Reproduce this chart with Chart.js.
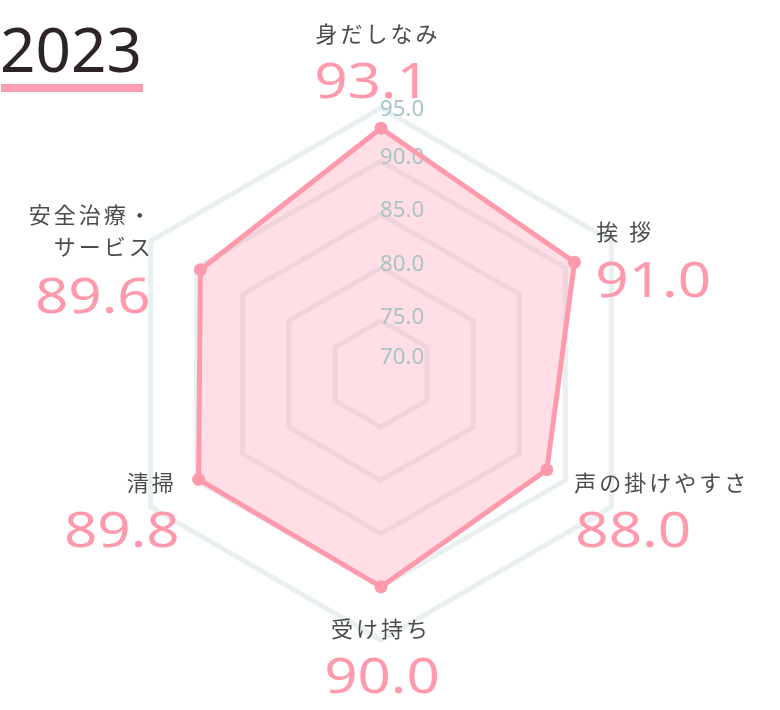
<!DOCTYPE html>
<html lang="ja">
<head>
<meta charset="utf-8">
<title>2023</title>
<script src="https://cdn.jsdelivr.net/npm/chart.js@4.4.1/dist/chart.umd.min.js"></script>
<style>
  html, body { margin: 0; padding: 0; background: #fff; overflow: hidden; }
  #wrap { position: relative; width: 780px; height: 710px; }
  canvas { position: absolute; left: 0; top: 0; }
  #year { position: absolute; left: 0; top: 17px; margin: 0; font: 400 62px/62px "Noto Sans", sans-serif; color: #2d2427; }
  #year-line { position: absolute; left: 1px; top: 84px; width: 142px; height: 8px; background: #ff9eb1; }
</style>
</head>
<body>
<div id="wrap">
  <canvas id="radarChart" width="780" height="710"></canvas>
  <h1 id="year">2023</h1>
  <div id="year-line"></div>
</div>
<script>
// chart data
const categories = ['身だしなみ', '挨 拶', '声の掛けやすさ', '受け持ち', '清掃', ['安全治療・', 'サービス']];
const scores = [93.1, 91.0, 88.0, 90.0, 89.8, 89.6];
const scaleMin = 70;
const scaleMax = 95;
const scaleStep = 5;

// where each name / score sits, relative to the outer vertex of its axis
const labelLayout = [
    { align: 'center', nameDx: -3,  nameDy: -74, valueDx: -9,  valueDy: -10 },
    { align: 'left',   nameDx: -15, nameDy: -9,  valueDx: -16, valueDy: 56 },
    { align: 'left',   nameDx: -37, nameDy: -24, valueDx: -36, valueDy: 40 },
    { align: 'center', nameDx: 0,   nameDy: -11, valueDx: 1,   valueDy: 53 },
    { align: 'right',  nameDx: 26,  nameDy: -24, valueDx: 29,  valueDy: 40 },
    { align: 'right',  nameDx: 3,   nameDy: -26, valueDx: 0,   valueDy: 72 }
];

const pink = '#ff9aad';

// the digits in the original are wide, so stretch them a bit
function drawScaledText(ctx, text, x, y, align, sx) {
    ctx.save();
    ctx.translate(x, y);
    ctx.scale(sx, 1);
    ctx.textAlign = align;
    ctx.fillText(text, 0, 0);
    ctx.restore();
}

// tick values, drawn after the fill but under the line
const tickLabelPlugin = {
    id: 'tickLabels',
    beforeDatasetDraw(chart) {
        const scale = chart.scales.r;
        const ctx = chart.ctx;
        ctx.save();
        ctx.fillStyle = '#a9c4c6';
        ctx.font = '21px "Noto Sans"';
        ctx.textBaseline = 'middle';
        scale.ticks.forEach(tick => {
            let dist = scale.getDistanceFromCenterForValue(tick.value) + 3;
            dist = Math.min(Math.max(dist, 16), scale.drawingArea - 2);
            drawScaledText(ctx, tick.value.toFixed(1), scale.xCenter - 1, scale.yCenter - dist, 'left', 1.06);
        });
        ctx.restore();
    }
};

// category names with the score under them
const pointLabelPlugin = {
    id: 'pointNames',
    afterDraw(chart) {
        const scale = chart.scales.r;
        const ctx = chart.ctx;
        ctx.save();
        categories.forEach((name, i) => {
            const pos = scale.getPointPosition(i, scale.drawingArea);
            const lay = labelLayout[i];
            const lines = [].concat(name);

            ctx.font = '22px "Noto Sans CJK JP"';
            ctx.letterSpacing = '3px';
            ctx.fillStyle = '#4b4b4b';
            ctx.textAlign = lay.align;
            ctx.textBaseline = 'middle';
            lines.forEach((line, j) => {
                ctx.fillText(line, pos.x + lay.nameDx, pos.y + lay.nameDy + j * 32);
            });

            ctx.letterSpacing = '0px';
            ctx.font = '49px "Noto Sans"';
            ctx.fillStyle = pink;
            ctx.textBaseline = 'alphabetic';
            drawScaledText(ctx, scores[i].toFixed(1), pos.x + lay.valueDx, pos.y + lay.valueDy, lay.align, 1.19);
        });
        ctx.restore();
    }
};

new Chart(document.getElementById('radarChart'), {
    type: 'radar',
    data: {
        labels: categories,
        datasets: [{
            label: '2023',
            data: scores,
            fill: true,
            backgroundColor: 'rgba(255, 153, 172, 0.31)',
            borderColor: pink,
            borderWidth: 5,
            pointRadius: 6.5,
            pointBackgroundColor: pink,
            pointBorderWidth: 0
        }]
    },
    options: {
        responsive: false,
        animation: false,
        layout: { padding: { left: 115, right: 133, top: 108, bottom: 70 } },
        plugins: {
            legend: { display: false },
            tooltip: { enabled: false }
        },
        scales: {
            r: {
                min: scaleMin,
                max: scaleMax,
                ticks: { display: false, stepSize: scaleStep },
                grid: { color: '#e8f0f2', lineWidth: 5 },
                angleLines: { display: false },
                pointLabels: { display: false }
            }
        }
    },
    plugins: [tickLabelPlugin, pointLabelPlugin]
});
</script>
</body>
</html>
